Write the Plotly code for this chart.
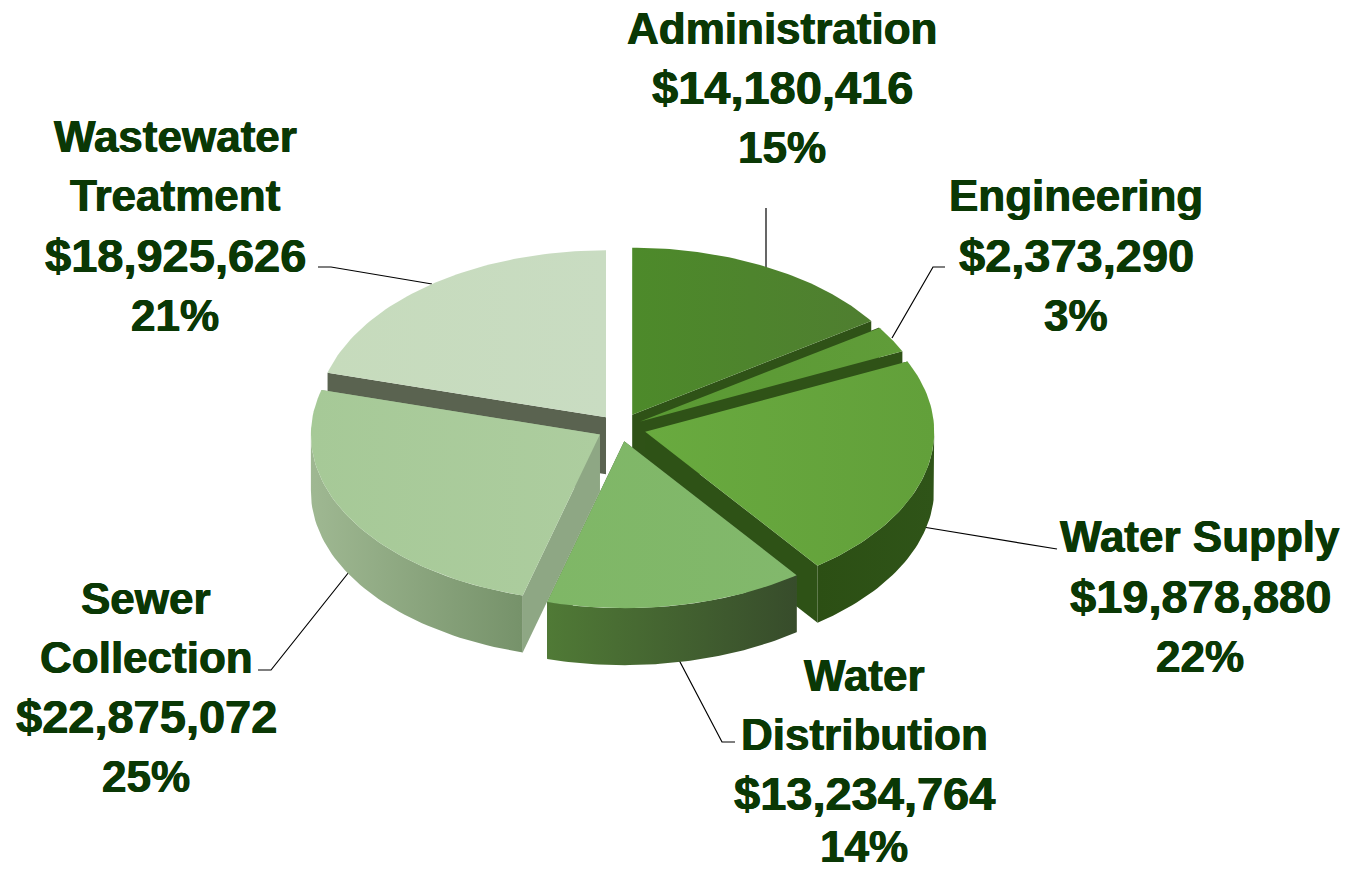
import math
import plotly.graph_objects as go

# ---- data ----
categories = ["Administration", "Engineering", "Water Supply", "Water Distribution", "Sewer Collection", "Wastewater Treatment"]
values = [14180416, 2373290, 19878880, 13234764, 22875072, 18925626]
percents = ["15%", "3%", "22%", "14%", "25%", "21%"]
label_lines = [["Administration"], ["Engineering"], ["Water Supply"], ["Water", "Distribution"], ["Sewer", "Collection"], ["Wastewater", "Treatment"]]

# ---- styling / layout ----
top_colors = [["#4d8a2a", "#4f7e30"], ["#5a9a33", "#609c39"], ["#69aa3f", "#62a03a"], ["#7fb766", "#82b86c"], ["#a6c997", "#adcd9f"], ["#c6dbbc", "#c9dcc2"]]
outer_colors = [["#2f5518", "#2f5518"], ["#2f5518", "#2f5518"], ["#2c4f14", "#2f5418"], ["#507a36", "#374c2b"], ["#9fb892", "#76926a"], ["#5a6350", "#5a6350"]]
wall_colors = ["#2f5217", "#2f5217", "#2e5216", "#3c5230", "#8ea784", "#5a6350"]
draw_order = [5, 0, 1, 2, 4, 3]
pulls = [0.09, 0.08, 0.09, 0.08, 0.08, 0.08]
label_pos = [(782, [28, 87, 147]), (1076, [195, 255, 315]), (1200, [536, 596, 656]),
             (864, [675, 734, 793, 846]), (146, [598, 657, 716, 776]), (175, [136, 195, 255, 315])]
leaders = [[(766, 208), (766, 270)], [(945, 267), (933, 267), (892, 338)], [(1057, 549), (923, 527)],
           [(735, 742), (722, 742), (679, 660)], [(258, 670), (271, 670), (349, 572)], [(318, 267), (331, 267), (432, 284)]]
CX, CY, RX, RY, DEPTH = 620, 428, 289, 167, 57
INK = "#0a3805"
SANS = "Liberation Sans"

total = sum(values)
fig = go.Figure()


def poly(pts, colors):
    xs = [p[0] for p in pts] + [pts[0][0]]
    ys = [p[1] for p in pts] + [pts[0][1]]
    fig.add_trace(go.Scatter(x=xs, y=ys, mode="lines", fill="toself", line=dict(width=0),
                             fillgradient=dict(type="horizontal", colorscale=[[0, colors[0]], [1, colors[1]]]),
                             hoverinfo="skip", showlegend=False))


for chain in leaders:
    fig.add_trace(go.Scatter(x=[p[0] for p in chain], y=[p[1] for p in chain], mode="lines",
                             line=dict(color="#000000", width=1.2), hoverinfo="skip", showlegend=False))

starts, cum = [], 0.0
for v in values:
    starts.append(cum)
    cum += v / total * 2 * math.pi

for i in draw_order:
    a0 = starts[i]
    a1 = a0 + values[i] / total * 2 * math.pi
    mid = (a0 + a1) / 2
    ax = CX + pulls[i] * RX * math.sin(mid)
    ay = CY - pulls[i] * RY * math.cos(mid)
    edge = lambda a: (ax + RX * math.sin(a), ay - RY * math.cos(a))
    n = 60
    arc = [edge(a0 + (a1 - a0) * k / n) for k in range(n + 1)]
    # radial cut faces
    for a in (a0, a1):
        e = edge(a)
        poly([(ax, ay), e, (e[0], e[1] + DEPTH), (ax, ay + DEPTH)], [wall_colors[i], wall_colors[i]])
    # outer rim, only the part turned to the viewer
    front = [p for k, p in enumerate(arc) if math.cos(a0 + (a1 - a0) * k / n) <= 0.02]
    if len(front) > 1:
        front = sorted(front, key=lambda p: p[0])
        poly(front + [(p[0], p[1] + DEPTH) for p in reversed(front)], outer_colors[i])
    # top face
    poly([(ax, ay)] + arc, top_colors[i])

annotations = []
for i, (cx, ys) in enumerate(label_pos):
    lines = label_lines[i] + ["${:,}".format(values[i]), percents[i]]
    for line, y in zip(lines, ys):
        size = 47 if line.startswith("$") else 44
        annotations.append(dict(x=cx, y=y, text="<b>%s</b>" % line, showarrow=False, xanchor="center", yanchor="middle",
                                font=dict(family=SANS, size=size, color=INK, shadow="0.5px 0 0 %s, -0.5px 0 0 %s" % (INK, INK))))

fig.update_layout(width=1345, height=872, margin=dict(l=0, r=0, t=0, b=0),
                  paper_bgcolor="white", plot_bgcolor="white",
                  xaxis=dict(range=[0, 1345], visible=False, fixedrange=True),
                  yaxis=dict(range=[872, 0], visible=False, fixedrange=True),
                  annotations=annotations, showlegend=False)
fig.write_html("out.html", config={"displayModeBar": False},
               post_script="document.body.style.margin='0';document.body.style.overflow='hidden';")
